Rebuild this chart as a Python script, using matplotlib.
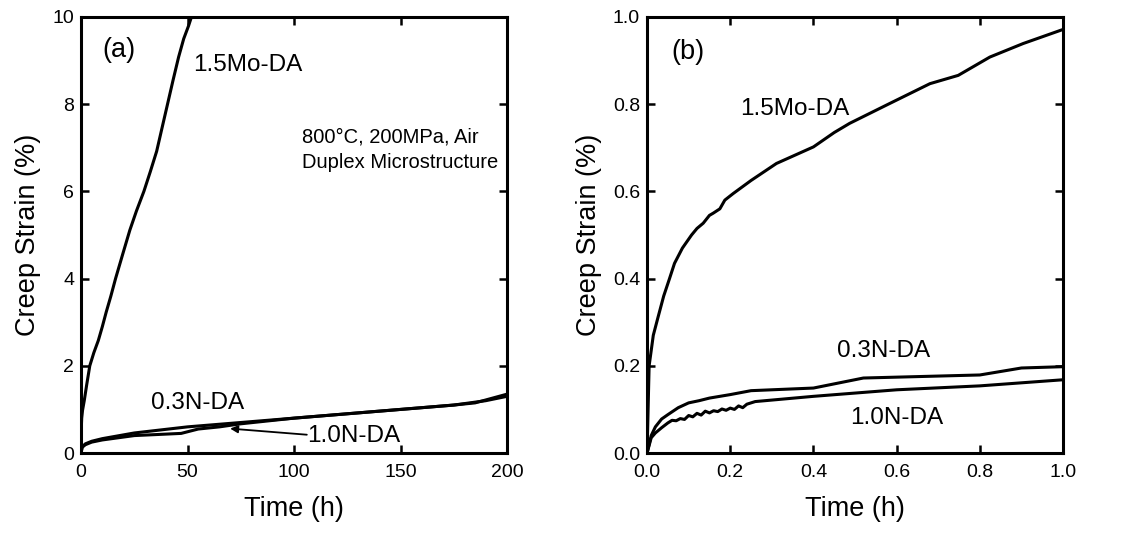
import matplotlib
matplotlib.use("Agg")
import matplotlib.pyplot as plt

plt.rcParams['font.family'] = ['Liberation Sans', 'DejaVu Sans']

# Panel (a): long-time creep curves
mo_a_t = [0, 0.05, 0.1, 0.3, 0.7, 1.5, 2.6, 4.1, 6, 8.1, 10, 11.8, 14, 16.2, 19.5, 22.9, 26, 29.5, 32.5, 35.5, 38, 40.6, 43.2, 45.8, 48.2, 50.5, 51.5]
mo_a_e = [0, 0.35, 0.55, 0.8, 0.98, 1.2, 1.55, 2.0, 2.3, 2.58, 2.9, 3.23, 3.6, 4.0, 4.55, 5.11, 5.55, 6.0, 6.45, 6.92, 7.45, 8.0, 8.55, 9.08, 9.5, 9.8, 9.95]

n03_a_t = [0, 0.5, 2, 5, 10, 25, 50, 75, 100, 125, 150, 175, 185, 200]
n03_a_e = [0.0, 0.14, 0.21, 0.27, 0.33, 0.46, 0.6, 0.7, 0.8, 0.9, 1.0, 1.1, 1.15, 1.35]

n10_a_t = [0, 0.5, 2, 5, 10, 25, 47, 55, 65, 75, 100, 125, 150, 175, 190, 200]
n10_a_e = [0.0, 0.13, 0.19, 0.25, 0.3, 0.4, 0.45, 0.55, 0.6, 0.67, 0.8, 0.9, 1.0, 1.1, 1.2, 1.3]

# Panel (b): first hour
mo_b_t = [0, 0.005, 0.015, 0.026, 0.04, 0.054, 0.066, 0.085, 0.107, 0.12, 0.135, 0.15,
          0.159, 0.175, 0.187, 0.207, 0.25, 0.311, 0.4, 0.45, 0.487, 0.58, 0.68, 0.748, 0.824, 0.904, 0.996]
mo_b_e = [0, 0.2, 0.27, 0.31, 0.36, 0.4, 0.435, 0.47, 0.5, 0.515, 0.527, 0.545,
          0.55, 0.56, 0.58, 0.595, 0.625, 0.664, 0.702, 0.735, 0.756, 0.8, 0.847, 0.866, 0.908, 0.939, 0.97]

n03_b_t = [0, 0.01, 0.02, 0.035, 0.05, 0.075, 0.1, 0.125, 0.15, 0.2, 0.25, 0.4, 0.52, 0.8, 0.9, 1.0]
n03_b_e = [0.0, 0.04, 0.06, 0.078, 0.088, 0.104, 0.115, 0.12, 0.126, 0.134, 0.143, 0.149, 0.172, 0.179, 0.195, 0.198]

n10_b_t = [0, 0.01, 0.02, 0.035, 0.05, 0.06, 0.07, 0.08, 0.09, 0.1, 0.11, 0.12, 0.13, 0.14, 0.15,
           0.16, 0.17, 0.18, 0.19, 0.2, 0.21, 0.22, 0.23, 0.24, 0.26, 0.4, 0.6, 0.8, 1.0]
n10_b_e = [0.0, 0.035, 0.046, 0.058, 0.069, 0.075, 0.074, 0.079, 0.077, 0.086, 0.083, 0.091, 0.087, 0.096, 0.092,
           0.097, 0.095, 0.101, 0.098, 0.103, 0.1, 0.108, 0.104, 0.112, 0.118, 0.13, 0.145, 0.154, 0.168]

fig = plt.figure(figsize=(11.32, 5.52), dpi=100)
axa = fig.add_axes([0.0716, 0.1793, 0.3763, 0.79])
axb = fig.add_axes([0.5716, 0.1793, 0.3675, 0.79])

lw = 2.2
axa.plot(mo_a_t, mo_a_e, color='black', lw=lw)
axa.plot(n03_a_t, n03_a_e, color='black', lw=lw)
axa.plot(n10_a_t, n10_a_e, color='black', lw=lw)
axb.plot(mo_b_t, mo_b_e, color='black', lw=lw)
axb.plot(n03_b_t, n03_b_e, color='black', lw=lw)
axb.plot(n10_b_t, n10_b_e, color='black', lw=lw)

axa.set_xlim(0, 200)
axa.set_ylim(0, 10)
axa.set_xticks([0, 50, 100, 150, 200])
axa.set_yticks([0, 2, 4, 6, 8, 10])
axb.set_xlim(0, 1.0)
axb.set_ylim(0, 1.0)
axb.set_xticks([0, 0.2, 0.4, 0.6, 0.8, 1.0])
axb.set_yticks([0, 0.2, 0.4, 0.6, 0.8, 1.0])
axb.set_xticklabels(['0.0', '0.2', '0.4', '0.6', '0.8', '1.0'])
axb.set_yticklabels(['0.0', '0.2', '0.4', '0.6', '0.8', '1.0'])

for ax in (axa, axb):
    ax.tick_params(direction='in', top=True, right=True, length=6, width=1.8,
                   labelsize=14)
    ax.tick_params(axis='x', pad=8)
    ax.tick_params(axis='y', pad=5)
    for s in ax.spines.values():
        s.set_linewidth(2.2)
    ax.set_xlabel('Time (h)', fontsize=19.5, labelpad=11)
    ax.set_ylabel('Creep Strain (%)', fontsize=19.5, labelpad=8)

axa.text(10, 9.25, '(a)', fontsize=19.5, va='center', ha='left')
axa.text(52.8, 8.9, '1.5Mo-DA', fontsize=17.5, va='center', ha='left')
axa.text(103.7, 7.25, '800°C, 200MPa, Air', fontsize=14.5, va='center', ha='left')
axa.text(103.7, 6.67, 'Duplex Microstructure', fontsize=14.5, va='center', ha='left')
axa.text(33, 1.15, '0.3N-DA', fontsize=17.5, va='center', ha='left')
axa.text(106, 0.38, '1.0N-DA', fontsize=17.5, va='center', ha='left')
axa.annotate('', xy=(70, 0.56), xytext=(106, 0.42),
             arrowprops=dict(arrowstyle='-|>', color='black', lw=1.3,
                             mutation_scale=11, shrinkA=0, shrinkB=0))

axb.text(0.058, 0.92, '(b)', fontsize=19.5, va='center', ha='left')
axb.text(0.223, 0.79, '1.5Mo-DA', fontsize=17.5, va='center', ha='left')
axb.text(0.457, 0.233, '0.3N-DA', fontsize=17.5, va='center', ha='left')
axb.text(0.489, 0.08, '1.0N-DA', fontsize=17.5, va='center', ha='left')

fig.savefig('out.png', dpi=100)
